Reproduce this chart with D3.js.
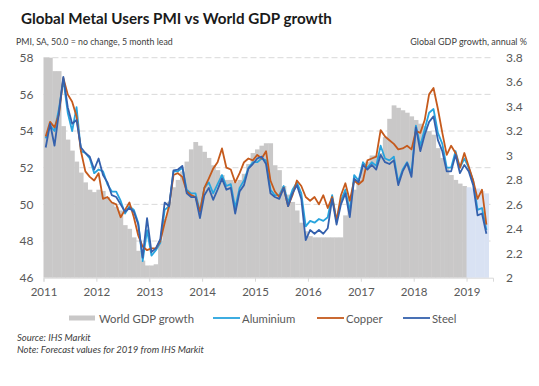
<!DOCTYPE html>
<html>
<head>
<meta charset="utf-8">
<script src="https://cdn.jsdelivr.net/npm/d3@7"></script>
<style>
body { margin: 0; background: #fff; }
text { font-family: Lato, "Open Sans", sans-serif; }
</style>
</head>
<body>
<div id="chart"></div>
<script>
// year labels, one at each January (monthly data from Jan 2011 to May 2019)
var years = ["2011", "2012", "2013", "2014", "2015", "2016", "2017", "2018", "2019"];
var pmiTicks = [46, 48, 50, 52, 54, 56, 58];
var gdpTicks = [2, 2.2, 2.4, 2.6, 2.8, 3, 3.2, 3.4, 3.6, 3.8];

// world GDP growth, annual %, Jan 2011 - Dec 2018
var gdp = [3.8, 3.8, 3.69, 3.69, 3.24, 3.13, 3.04, 2.95, 2.86, 2.78,
  2.72, 2.70, 2.72, 2.71, 2.66, 2.62, 2.58, 2.55, 2.43, 2.40,
  2.33, 2.22, 2.14, 2.10, 2.10, 2.11, 2.30, 2.48, 2.62, 2.74,
  2.80, 2.87, 2.95, 3.05, 3.11, 3.08, 3.03, 2.98, 2.92, 2.88,
  2.84, 2.80, 2.80, 2.78, 2.80, 2.85, 2.93, 3.02, 3.05, 3.08,
  3.10, 3.10, 2.92, 2.88, 2.75, 2.68, 2.62, 2.55, 2.45, 2.38,
  2.34, 2.33, 2.33, 2.33, 2.33, 2.33, 2.33, 2.33, 2.51, 2.65,
  2.72, 2.80, 2.90, 2.95, 3.00, 3.00, 3.02, 3.15, 3.30, 3.41,
  3.39, 3.37, 3.35, 3.32, 3.29, 3.26, 3.24, 3.20, 3.17, 3.06,
  2.98, 2.90, 2.84, 2.80, 2.77, 2.75];
// forecast, Jan - May 2019
var gdpForecast = [2.74, 2.73, 2.73, 2.71, 2.69];

// PMI, SA, 5 month lead
var aluminium = [53.6, 54.3, 54.0, 55.2, 56.8, 55.0, 54.0, 55.3, 52.9, 52.8,
  52.5, 51.7, 51.9, 51.8, 51.1, 50.7, 50.7, 50.2, 49.5, 49.9,
  49.7, 49.0, 46.9, 48.6, 47.2, 47.5, 47.9, 49.7, 49.9, 51.8,
  51.8, 52.0, 50.8, 50.6, 50.6, 49.6, 50.9, 51.2, 50.6, 51.1,
  51.6, 51.0, 51.1, 49.8, 50.9, 51.3, 52.0, 52.3, 52.3, 52.5,
  52.4, 50.8, 50.5, 50.5, 51.0, 50.1, 50.8, 51.2, 50.6, 48.8,
  49.1, 49.0, 49.2, 49.1, 49.3, 50.5, 49.1, 50.2, 50.8, 49.6,
  51.6, 51.3, 52.3, 52.0, 52.3, 52.1, 53.2, 52.5, 52.4, 52.6,
  51.2, 51.9, 52.3, 51.7, 54.3, 53.2, 54.1, 55.0, 55.2, 53.9,
  53.3, 52.0, 52.0, 52.9, 52.0, 52.5, 52.0, 51.3, 49.7, 49.8,
  48.6];
var copper = [53.7, 54.5, 54.2, 54.9, 56.9, 56.0, 55.6, 54.8, 52.9, 51.8,
  51.5, 51.3, 51.7, 50.3, 50.4, 50.1, 50.0, 49.3, 49.7, 50.1,
  49.3, 48.3, 47.7, 47.5, 47.6, 47.6, 48.0, 49.0, 49.9, 51.6,
  51.7, 51.5, 50.7, 50.5, 50.4, 49.6, 50.9, 51.4, 51.95, 52.3,
  53.05, 52.0, 51.9, 51.2, 51.7, 52.3, 52.5, 52.4, 52.7, 52.5,
  52.9, 51.3, 50.7, 50.4, 50.9, 49.9, 50.5, 51.3, 51.0, 50.4,
  50.2, 50.4, 50.0, 50.5, 49.8, 50.4, 49.1, 50.5, 51.15, 50.2,
  51.3, 51.1, 51.3, 52.4, 52.5, 52.6, 54.05, 53.7, 53.5, 53.3,
  53.0, 53.05, 53.2, 53.0, 54.0, 53.9, 54.6, 56.0, 56.35, 55.2,
  53.9, 52.7, 53.2, 52.8, 52.0, 52.8, 52.05, 51.3, 50.3, 50.8,
  48.9];
var steel = [53.1, 54.4, 53.2, 55.0, 56.95, 55.3, 54.4, 54.6, 53.1, 52.8,
  52.6, 51.9, 52.5, 51.6, 51.2, 50.5, 50.4, 50.0, 49.6, 49.8,
  49.6, 48.9, 47.1, 49.25, 47.4, 47.6, 48.1, 50.1, 49.9, 51.85,
  51.9, 52.1, 50.6, 50.4, 50.4, 49.25, 50.5, 50.9, 50.25, 50.8,
  51.4, 50.8, 50.9, 49.5, 50.7, 51.05, 51.95, 52.2, 52.5, 52.6,
  52.2, 50.6, 50.4, 50.3, 50.9, 49.9, 50.6, 51.05, 50.3, 48.05,
  48.6, 48.4, 48.6, 48.4, 48.7, 50.3, 48.9, 50.0, 50.6, 49.3,
  51.4, 51.2, 52.15, 51.9, 52.15, 51.9, 52.7, 52.3, 52.2, 52.4,
  51.05, 51.8, 52.25, 51.5, 54.2, 52.9, 53.8, 54.5, 54.8, 53.5,
  52.9, 51.8, 51.8, 52.7, 51.7, 52.15, 51.8, 51.05, 49.4, 49.5,
  48.4];

var width = 539, height = 386;
var plotLeft = 43.5, plotRight = 493, plotTop = 57.7, plotBottom = 277.7;

var svg = d3.select("#chart")
  .append("svg")
    .attr("width", width)
    .attr("height", height);

// one unit = one month
var x = d3.scaleLinear().domain([0, 102]).range([plotLeft, plotRight]);
var yL = d3.scaleLinear().domain([46, 58]).range([plotBottom, plotTop]);
var yR = d3.scaleLinear().domain([2, 3.8]).range([plotBottom, plotTop]);

// gridlines
svg.append("g")
  .selectAll("line")
  .data(pmiTicks.slice(1))
  .enter().append("line")
    .attr("x1", plotLeft).attr("x2", plotRight)
    .attr("y1", function(d){ return yL(d); })
    .attr("y2", function(d){ return yL(d); })
    .attr("stroke", "#d9d9d9")
    .attr("stroke-width", 1)
    .attr("stroke-dasharray", "6,3");

// GDP columns
svg.append("g")
  .selectAll("rect")
  .data(gdp)
  .enter().append("rect")
    .attr("x", function(d, i){ return x(i); })
    .attr("width", function(d, i){ return x(i + 1) - x(i) + 0.4; })
    .attr("y", function(d){ return yR(d); })
    .attr("height", function(d){ return yR(2) - yR(d); })
    .attr("fill", "#c9c8c8");

svg.append("g")
  .selectAll("rect")
  .data(gdpForecast)
  .enter().append("rect")
    .attr("x", function(d, i){ return x(gdp.length + i); })
    .attr("width", function(d, i){ return x(1) - x(0) + 0.4; })
    .attr("y", function(d){ return yR(d); })
    .attr("height", function(d){ return yR(2) - yR(d); })
    .attr("fill", "#d9e2f3");

// x axis
var xAxis = svg.append("g")
  .attr("transform", "translate(0," + plotBottom + ")")
  .call(d3.axisBottom(x)
    .tickValues(years.map(function(d, i){ return i * 12; }))
    .tickFormat(function(d, i){ return years[i]; })
    .tickSize(4)
    .tickPadding(6));
xAxis.select(".domain").attr("stroke", "#d9d9d9");
xAxis.selectAll(".tick line").attr("stroke", "#d9d9d9");
xAxis.selectAll("text").attr("fill", "#595959").style("font-size", "11.5px");

// left axis
var lAxis = svg.append("g")
  .attr("transform", "translate(" + plotLeft + ",0)")
  .call(d3.axisLeft(yL).tickValues(pmiTicks).tickSize(0).tickPadding(10));
lAxis.select(".domain").remove();
lAxis.selectAll("text").attr("fill", "#595959").style("font-size", "12px");

// right axis
var rAxis = svg.append("g")
  .attr("transform", "translate(" + plotRight + ",0)")
  .call(d3.axisRight(yR).tickValues(gdpTicks).tickSize(0).tickPadding(13)
    .tickFormat(function(d){ return String(+d.toFixed(1)); }));
rAxis.select(".domain").remove();
rAxis.selectAll("text").attr("fill", "#595959").style("font-size", "12px");

// PMI lines
var line = d3.line()
  .x(function(d, i){ return x(i + 0.5); })
  .y(function(d){ return yL(d); });

var series = [
  {name: "Aluminium", values: aluminium, color: "#28a4de"},
  {name: "Copper", values: copper, color: "#c55a1c"},
  {name: "Steel", values: steel, color: "#3561ad"}
];

svg.append("g")
  .selectAll("path")
  .data(series)
  .enter().append("path")
    .attr("d", function(d){ return line(d.values); })
    .attr("fill", "none")
    .attr("stroke", function(d){ return d.color; })
    .attr("stroke-width", 1.8)
    .attr("stroke-linejoin", "round");

// titles
svg.append("text")
  .attr("x", 21).attr("y", 24)
  .style("font-size", "15.2px").style("font-weight", "bold")
  .attr("fill", "#1a1a1a")
  .text("Global Metal Users PMI vs World GDP growth");

svg.append("text")
  .attr("x", 16).attr("y", 45)
  .style("font-size", "8.8px").attr("fill", "#404040")
  .text("PMI, SA, 50.0 = no change, 5 month lead");

svg.append("text")
  .attr("x", 527).attr("y", 45)
  .attr("text-anchor", "end")
  .style("font-size", "9px").attr("fill", "#404040")
  .text("Global GDP growth, annual %");

// legend
var legend = svg.append("g").attr("transform", "translate(0,318)");
legend.append("rect")
  .attr("x", 69).attr("y", -2.5).attr("width", 26).attr("height", 5)
  .attr("fill", "#c9c8c8");
legend.append("text")
  .attr("x", 99).attr("y", 4.5)
  .style("font-size", "11.3px").attr("fill", "#595959")
  .text("World GDP growth");

var legendX = [213, 317, 403];
var item = legend.selectAll(".item")
  .data(series)
  .enter().append("g")
    .attr("class", "item")
    .attr("transform", function(d, i){ return "translate(" + legendX[i] + ",0)"; });
item.append("line")
  .attr("x1", 0).attr("x2", 27).attr("y1", 0).attr("y2", 0)
  .attr("stroke", function(d){ return d.color; })
  .attr("stroke-width", 1.8);
item.append("text")
  .attr("x", 29).attr("y", 4.5)
  .style("font-size", "11.3px").attr("fill", "#595959")
  .text(function(d){ return d.name; });

// notes
svg.append("text")
  .attr("x", 17).attr("y", 341)
  .style("font-size", "9.5px").style("font-style", "italic").attr("fill", "#404040")
  .text("Source: IHS Markit");
svg.append("text")
  .attr("x", 17).attr("y", 353)
  .style("font-size", "9.5px").style("font-style", "italic").attr("fill", "#404040")
  .text("Note: Forecast values for 2019 from IHS Markit");
</script>
</body>
</html>
